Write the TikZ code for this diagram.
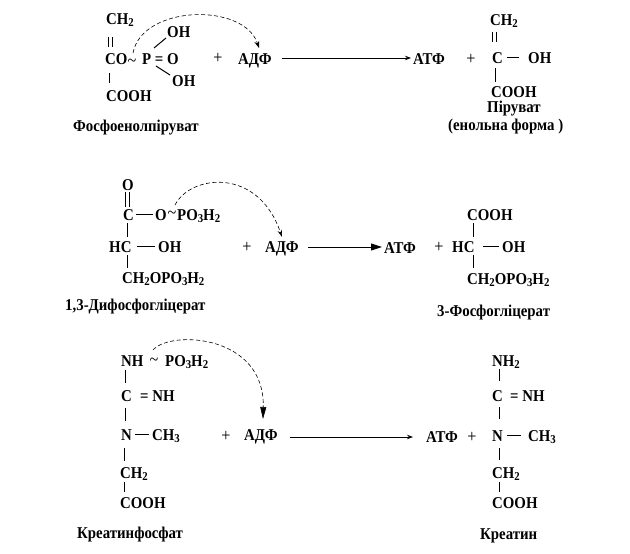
\documentclass[tikz,border=0pt]{standalone}
\usepackage{fontspec}
\setmainfont{Liberation Serif}[FakeStretch=0.9]
\usetikzlibrary{arrows.meta}
\newcommand{\sbs}[1]{\raisebox{-2.5pt}{\fontsize{12pt}{12pt}\selectfont #1}}
\tikzset{
  txt/.style={anchor=base west, inner sep=0pt, font=\fontsize{16.5pt}{19pt}\selectfont\bfseries},
  plussign/.style={anchor=center, inner sep=0pt, font=\fontsize{18pt}{20pt}\selectfont},
  tildesign/.style={anchor=center, inner sep=0pt, font=\fontsize{18pt}{20pt}\selectfont},
  bond/.style={line width=1pt},
  rxn/.style={line width=0.9pt},
  smallhead/.style={-{Stealth[length=6pt,width=4.5pt]}},
  bighead/.style={-{Triangle[length=11pt,width=7pt]}},
  transfer/.style={line width=0.6pt, dash pattern=on 4pt off 2.5pt},
}
\begin{document}
\begin{tikzpicture}[x=1pt,y=-1pt]
\useasboundingbox (0,0) rectangle (630,554);

% ---------------- Reaction 1 ----------------
\node[txt] (ch2a) at (106,24) {CH\sbs{2}};
\draw[bond] (108,37) -- (108,47) (112,37) -- (112,47);
\node[txt] (coa) at (105,64) {CO};
\node[tildesign] (tila) at (132,63) {\textasciitilde};
\node[txt] (pa) at (142,64) {P = O};
\node[txt] (oh1a) at (167,37) {OH};
\node[txt] (oh2a) at (172,86) {OH};
\draw[bond] (154,48) -- (166,38);
\draw[bond] (156,66) -- (170,75);
\draw[bond] (109,73) -- (109,83);
\node[txt] (coohA) at (106,101) {COOH};
\node[plussign] (plus1) at (218,58) {+};
\node[txt] (adf1) at (238,64) {АДФ};
\node[txt] (atf1) at (413,64) {АТФ};
\coordinate (r1s) at (282,58);
\coordinate (r1e) at (411,58);
\draw[rxn,smallhead] (r1s) -- (r1e);
\node[plussign] (plus2) at (471,59) {+};
\node[txt] (ch2b) at (490,25) {CH\sbs{2}};
\draw[bond] (492,32) -- (492,42) (496,32) -- (496,42);
\node[txt] (cb) at (492,63) {C};
\draw[bond] (507,57) -- (519,57);
\node[txt] (ohb) at (528,63) {OH};
\draw[bond] (495,68) -- (495,82);
\node[txt] (coohb) at (491,97) {COOH};
\node[txt] (pir) at (487,112) {Піруват};
\node[txt] (enol) at (448,130) {(енольна форма )};
\node[txt] (lab1) at (73,131) {Фосфоенолпіруват};
\coordinate (d1s) at (133,53);
\coordinate (d1e) at (259,48);
\draw[transfer,-{Stealth[length=7pt,width=5pt]}] (d1s) .. controls (142,5) and (244,2) .. (d1e);

% ---------------- Reaction 2 ----------------
\node[txt] (o2) at (122,190) {O};
\draw[bond] (125,192) -- (125,207) (129,192) -- (129,207);
\node[txt] (c2) at (123,220) {C};
\draw[bond] (136,214) -- (153,214);
\node[txt] (o2b) at (155,220) {O};
\node[tildesign] (til2) at (172,215) {\textasciitilde};
\node[txt] (po2) at (177,220) {PO\sbs{3}H\sbs{2}};
\draw[bond] (127,223) -- (127,237);
\node[txt] (hc2) at (109,252) {HC};
\draw[bond] (137,246) -- (155,246);
\node[txt] (oh2) at (158,252) {OH};
\draw[bond] (127,255) -- (127,268);
\node[txt] (ch2o) at (122,283) {CH\sbs{2}OPO\sbs{3}H\sbs{2}};
\node[plussign] (plus3) at (247,247) {+};
\node[txt] (adf2) at (265,252) {АДФ};
\coordinate (r2s) at (308,247);
\coordinate (r2e) at (382,247);
\draw[rxn,bighead] (r2s) -- (r2e);
\node[txt] (atf2) at (384,253) {АТФ};
\node[plussign] (plus4) at (439,247) {+};
\node[txt] (cooh2b) at (467,220) {COOH};
\draw[bond] (473,223) -- (473,237);
\node[txt] (hc2b) at (452,252) {HC};
\draw[bond] (483,246) -- (499,246);
\node[txt] (oh2b) at (502,252) {OH};
\draw[bond] (473,255) -- (473,268);
\node[txt] (ch2ob) at (467,284) {CH\sbs{2}OPO\sbs{3}H\sbs{2}};
\node[txt] (lab2a) at (65,310) {1,3-Дифосфогліцерат};
\node[txt] (lab2b) at (437,316) {3-Фосфогліцерат};
\coordinate (d2s) at (175,205);
\coordinate (d2e) at (282,237);
\draw[transfer,-{Stealth[length=7pt,width=4.5pt]}] (d2s) .. controls (190,175) and (258,166) .. (d2e);

% ---------------- Reaction 3 ----------------
\node[txt] (nh3) at (121,366) {NH};
\node[tildesign] (til3) at (154,362) {\textasciitilde};
\node[txt] (po3) at (165,366) {PO\sbs{3}H\sbs{2}};
\draw[bond] (125,370) -- (125,383);
\node[txt] (c3) at (121,401) {C};
\node[txt] (eq3) at (140,401) {= NH};
\draw[bond] (125,408) -- (125,421);
\node[txt] (n3) at (121,440) {N};
\draw[bond] (135,434) -- (149,434);
\node[txt] (ch3) at (152,440) {CH\sbs{3}};
\draw[bond] (124,448) -- (124,461);
\node[txt] (ch2c) at (120,478) {CH\sbs{2}};
\draw[bond] (124,482) -- (124,492);
\node[txt] (cooh3) at (120,508) {COOH};
\node[txt] (lab3a) at (77,538) {Креатинфосфат};
\node[plussign] (plus5) at (226,436) {+};
\node[txt] (adf3) at (244,440) {АДФ};
\coordinate (r3s) at (290,437);
\coordinate (r3e) at (413,437);
\draw[rxn,smallhead] (r3s) -- (r3e);
\node[txt] (atf3) at (426,442) {АТФ};
\node[plussign] (plus6) at (472,437) {+};
\node[txt] (nh2b) at (492,366) {NH\sbs{2}};
\draw[bond] (499,369) -- (499,381);
\node[txt] (c3b) at (492,401) {C};
\node[txt] (eq3b) at (510,401) {= NH};
\draw[bond] (499,407) -- (499,419);
\node[txt] (n3b) at (492,441) {N};
\draw[bond] (507,435) -- (521,435);
\node[txt] (ch3b) at (528,441) {CH\sbs{3}};
\draw[bond] (499,448) -- (499,460);
\node[txt] (ch2b3) at (492,478) {CH\sbs{2}};
\draw[bond] (499,482) -- (499,492);
\node[txt] (cooh3b) at (492,508) {COOH};
\node[txt] (lab3b) at (480,539) {Креатин};
\coordinate (d3s) at (153,350);
\coordinate (d3e) at (263,419);
\draw[transfer,-{Triangle[length=12pt,width=6pt]}] (d3s) .. controls (170,330) and (265,334) .. (d3e);
\end{tikzpicture}
\end{document}
